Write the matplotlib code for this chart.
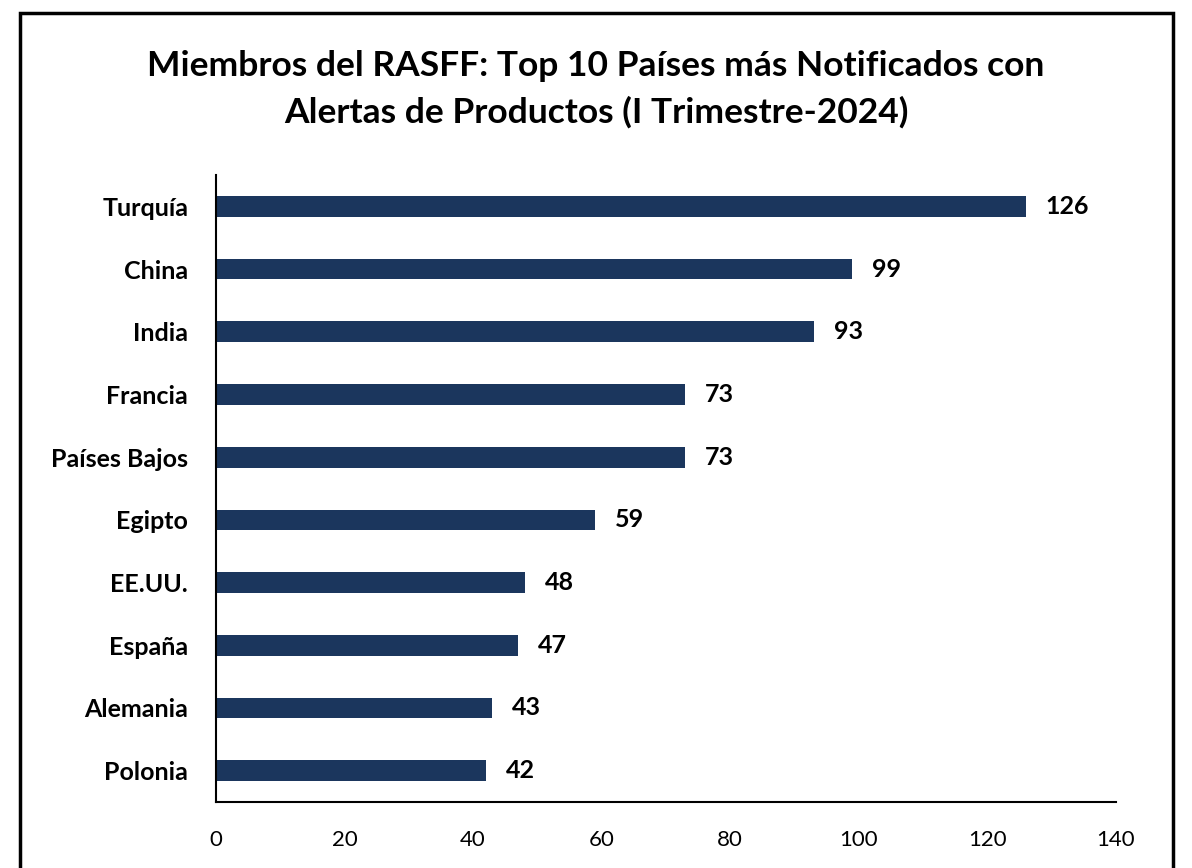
import matplotlib.pyplot as plt
from matplotlib.patches import Rectangle

paises = ["Turquía", "China", "India", "Francia", "Países Bajos",
          "Egipto", "EE.UU.", "España", "Alemania", "Polonia"]
notificaciones = [126, 99, 93, 73, 73, 59, 48, 47, 43, 42]
ticks_x = [0, 20, 40, 60, 80, 100, 120, 140]

plt.rcParams['font.family'] = ['Lato', 'DejaVu Sans']

fig = plt.figure(figsize=(11.92, 8.68), dpi=100)
ax = fig.add_axes([0.1812, 0.076, 0.755, 0.7224])

# borde exterior del grafico
fig.patches.append(Rectangle((20 / 1192, -0.05), 1153 / 1192, 1.035,
                             transform=fig.transFigure, fill=False,
                             edgecolor="black", linewidth=2.5))

y = list(range(len(paises)))
ax.barh(y, notificaciones, height=0.33, color="#1B365D")
for yi, v in zip(y, notificaciones):
    ax.text(v + 3.1, yi, str(v), va="center", ha="left",
            fontsize=18, fontweight="bold")

ax.set_ylim(len(paises) - 0.5, -0.5)
ax.set_xlim(0, 140)
ax.set_yticks(y)
ax.set_yticklabels(paises, fontsize=18, fontweight="bold")
ax.set_xticks(ticks_x)
ax.set_xticklabels([str(t) for t in ticks_x], fontsize=16)
ax.tick_params(axis="y", length=0, pad=20)
ax.tick_params(axis="x", length=0, pad=20)

for s in ["top", "right"]:
    ax.spines[s].set_visible(False)
ax.spines["left"].set_linewidth(1.5)
ax.spines["bottom"].set_linewidth(1.5)

fig.text(0.5, 0.897, "Miembros del RASFF: Top 10 Países más Notificados con\n"
         "Alertas de Productos (I Trimestre-2024)",
         ha="center", va="center", fontsize=25.5, fontweight="bold",
         linespacing=1.5)

fig.savefig("out.png", dpi=100)
